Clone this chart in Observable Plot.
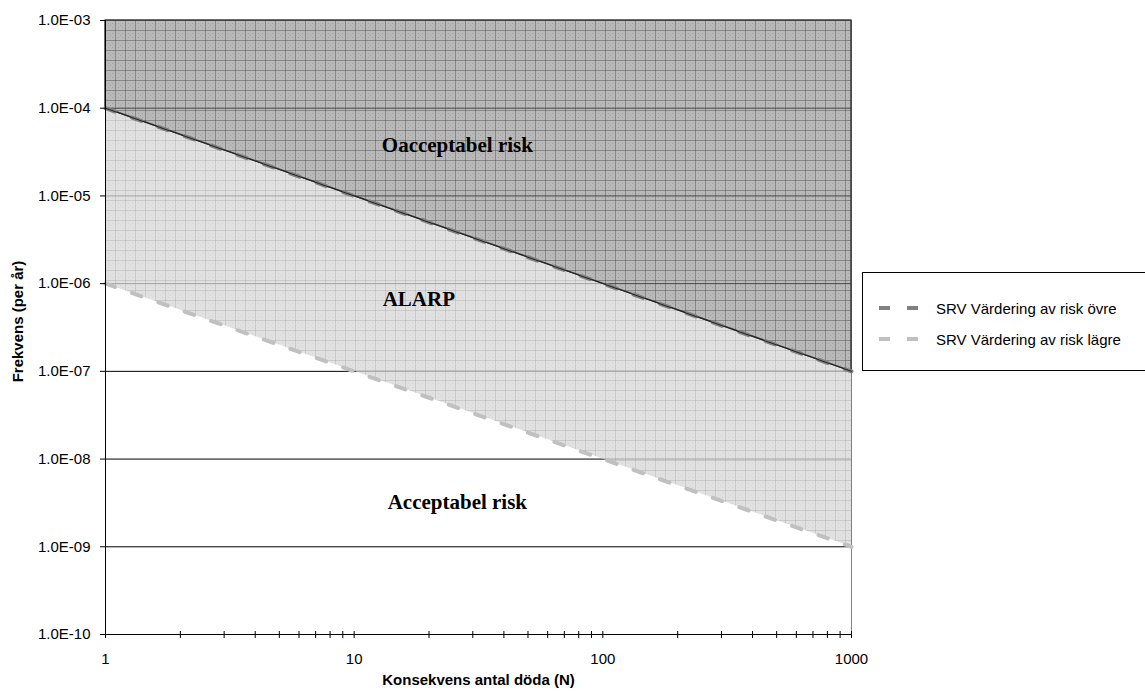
<!DOCTYPE html>
<html>
<head>
<meta charset="utf-8">
<script src="https://cdn.jsdelivr.net/npm/d3@7"></script>
<script src="https://cdn.jsdelivr.net/npm/@observablehq/plot@0.6"></script>
<style>
  html, body { margin: 0; padding: 0; background: #fff; }
  #wrap { position: relative; width: 1145px; height: 692px; overflow: hidden; font-family: "Liberation Sans", Arial, sans-serif; }
  #legend { position: absolute; left: 862px; top: 272px; width: 300px; height: 99px; border: 1px solid #000; background: #fff; box-sizing: border-box; }
  .entry { position: absolute; left: 14px; height: 20px; display: flex; align-items: center; font-size: 15px; color: #000; white-space: nowrap; }
  .entry svg { margin-right: 17px; }
</style>
</head>
<body>
<div id="wrap"></div>
<script>
// ---- data ----
const consequences = [1, 10, 100, 1000];            // N (antal döda)
const upperLimit   = [1e-4, 1e-5, 1e-6, 1e-7];      // SRV Värdering av risk övre
const lowerLimit   = [1e-6, 1e-7, 1e-8, 1e-9];      // SRV Värdering av risk lägre
const topLimit     = [1e-3, 1e-3, 1e-3, 1e-3];      // top of chart
const yTicks       = [1e-3, 1e-4, 1e-5, 1e-6, 1e-7, 1e-8, 1e-9, 1e-10];
const yTickLabels  = ["1.0E-03","1.0E-04","1.0E-05","1.0E-06","1.0E-07","1.0E-08","1.0E-09","1.0E-10"];
const xTicks       = [1, 10, 100, 1000];
const xTickLabels  = ["1", "10", "100", "1000"];
const xMinorTicks  = [2,3,4,5,6,7,8,9,20,30,40,50,60,70,80,90,200,300,400,500,600,700,800,900];
const seriesNames  = ["SRV Värdering av risk övre", "SRV Värdering av risk lägre"];
const regionLabels = ["Oacceptabel risk", "ALARP", "Acceptabel risk"];
const regionLabelN = [26, 18.2, 26];
const regionLabelF = [3.8e-5, 6.6e-7, 3.2e-9];
const xTitle = "Konsekvens antal döda (N)";
const yTitle = "Frekvens (per år)";

const rows = consequences.map((n, i) => ({N: n, upper: upperLimit[i], lower: lowerLimit[i], top: topLimit[i]}));
const labelRows = regionLabels.map((t, i) => ({t, N: regionLabelN[i], F: regionLabelF[i]}));

const chart = Plot.plot({
  width: 1145,
  height: 692,
  marginLeft: 105,
  marginRight: 294,
  marginTop: 20,
  marginBottom: 58,
  style: {fontFamily: "'Liberation Sans', Arial, sans-serif", fontSize: "15px", color: "#000", background: "#fff"},
  x: {type: "log", domain: [1, 1000]},
  y: {type: "log", domain: [1e-10, 1e-3]},
  marks: [
    Plot.ruleY(yTicks.slice(1, -1), {stroke: "#000", strokeWidth: 1}),
    Plot.frame({stroke: "#808080"}),
    Plot.areaY(rows, {x: "N", y1: "lower", y2: "upper", fill: "url(#patAlarp)"}),
    Plot.areaY(rows, {x: "N", y1: "upper", y2: "top", fill: "url(#patDark)", stroke: "#3a3a3a", strokeWidth: 1.5}),
    Plot.lineY(rows, {x: "N", y: "lower", stroke: "#c0c0c0", strokeWidth: 4, strokeDasharray: "10,18"}),
    Plot.lineY(rows, {x: "N", y: "upper", stroke: "#808080", strokeWidth: 4, strokeDasharray: "10,18"}),
    Plot.lineY(rows, {x: "N", y: "upper", stroke: "#222", strokeWidth: 1}),
    Plot.ruleX([1], {stroke: "#000", strokeWidth: 1}),
    Plot.ruleY([1e-10], {stroke: "#000", strokeWidth: 1}),
    Plot.axisY({ticks: yTicks, tickSize: 5, tickPadding: 10, label: null,
      tickFormat: d => yTickLabels[yTicks.indexOf(d)]}),
    Plot.axisX({ticks: xTicks.concat(xMinorTicks), tickSize: 7, dy: -3, label: null, tickFormat: () => ""}),
    Plot.axisX({ticks: xTicks, tickSize: 0, tickPadding: 19, label: null,
      tickFormat: d => xTickLabels[xTicks.indexOf(d)]}),
    Plot.text(labelRows, {x: "N", y: "F", text: "t", fontFamily: "'Liberation Serif', 'Times New Roman', serif",
      fontWeight: "bold", fontSize: 21, fill: "#000"}),
    Plot.text([xTitle], {frameAnchor: "bottom", dy: 50, fontWeight: "bold", fontSize: 15, fill: "#000"}),
    Plot.text([yTitle], {frameAnchor: "left", textAnchor: "middle", dx: -87, dy: -6, rotate: -90, fontWeight: "bold", fontSize: 15, fill: "#000"})
  ]
});

// patterns
const NS = "http://www.w3.org/2000/svg";
const defs = document.createElementNS(NS, "defs");
function makePattern(id, baseColor, baseOpacity, lineColor, lineOpacity, dotColor, dotOpacity) {
  const p = document.createElementNS(NS, "pattern");
  p.setAttribute("id", id);
  p.setAttribute("patternUnits", "userSpaceOnUse");
  p.setAttribute("width", 10);
  p.setAttribute("height", 10);
  p.setAttribute("x", 5);
  p.setAttribute("y", 0);
  const r = document.createElementNS(NS, "rect");
  r.setAttribute("width", 10); r.setAttribute("height", 10);
  r.setAttribute("fill", baseColor); r.setAttribute("fill-opacity", baseOpacity);
  p.appendChild(r);
  for (const [x, y] of [[3,3],[5,5],[7,3],[3,7],[7,7]]) {
    const d = document.createElementNS(NS, "rect");
    d.setAttribute("x", x); d.setAttribute("y", y);
    d.setAttribute("width", 1); d.setAttribute("height", 1);
    d.setAttribute("fill", dotColor); d.setAttribute("fill-opacity", dotOpacity);
    p.appendChild(d);
  }
  const l = document.createElementNS(NS, "path");
  l.setAttribute("d", "M0,0.5H10M0.5,0V10");
  l.setAttribute("stroke", lineColor); l.setAttribute("stroke-opacity", lineOpacity);
  l.setAttribute("stroke-width", 1);
  l.setAttribute("fill", "none");
  p.appendChild(l);
  defs.appendChild(p);
}
makePattern("patDark", "rgb(128,128,128)", 0.55, "rgb(60,60,60)", 0.4, "rgb(90,90,90)", 0.25);
makePattern("patAlarp", "rgb(214,214,214)", 0.75, "rgb(150,150,150)", 0.3, "rgb(170,170,170)", 0.25);
chart.insertBefore(defs, chart.firstChild);

const wrap = document.getElementById("wrap");
wrap.appendChild(chart);

// legend
const legend = document.createElement("div");
legend.id = "legend";
const legendColors = ["#808080", "#c0c0c0"];
const legendTops = [25, 56];
seriesNames.forEach((name, i) => {
  const e = document.createElement("div");
  e.className = "entry";
  e.style.top = legendTops[i] + "px";
  e.innerHTML = `<svg width="42" height="8"><line x1="2" y1="4" x2="42" y2="4" stroke="${legendColors[i]}" stroke-width="4" stroke-dasharray="11,17"/></svg><span>${name}</span>`;
  legend.appendChild(e);
});
wrap.appendChild(legend);
</script>
</body>
</html>
